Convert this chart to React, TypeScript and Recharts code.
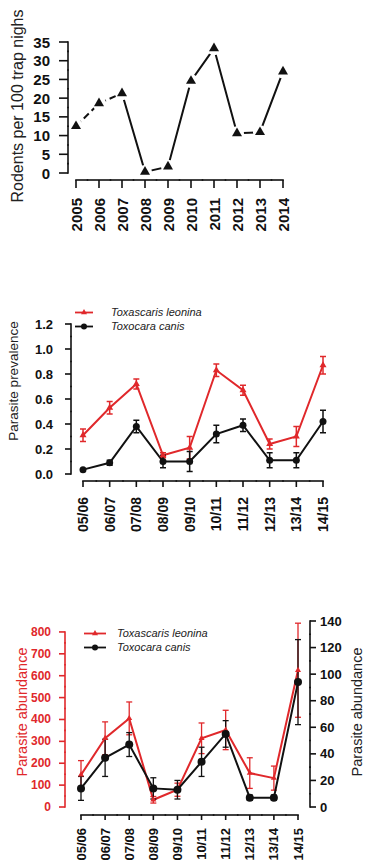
import React from 'react';
import { LineChart, Line, XAxis, YAxis, ErrorBar, Legend } from 'recharts';

const years = ['2005', '2006', '2007', '2008', '2009', '2010', '2011', '2012', '2013', '2014'];
const rodents = [12.5, 18.6, 21.3, 0.3, 1.7, 24.6, 33.3, 10.6, 10.9, 27.1];
const rodentTicks = [0, 5, 10, 15, 20, 25, 30, 35];

const seasons = ['05/06', '06/07', '07/08', '08/09', '09/10', '10/11', '11/12', '12/13', '13/14', '14/15'];
const leoninaPrev = [0.31, 0.53, 0.72, 0.15, 0.21, 0.83, 0.67, 0.24, 0.3, 0.87];
const leoninaPrevErr = [0.05, 0.05, 0.04, 0.02, 0.09, 0.05, 0.04, 0.04, 0.08, 0.07];
const canisPrev = [0.035, 0.09, 0.38, 0.1, 0.1, 0.32, 0.39, 0.11, 0.11, 0.42];
const canisPrevErr = [0, 0.02, 0.05, 0.05, 0.08, 0.07, 0.05, 0.06, 0.06, 0.09];
const prevTicks = [0, 0.2, 0.4, 0.6, 0.8, 1.0, 1.2];

const leoninaAbund = [147, 314, 405, 33, 79, 314, 352, 155, 132, 625];
const leoninaAbundErr = [65, 75, 75, 15, 30, 70, 90, 70, 55, 215];
const canisAbund = [14, 37, 47, 14, 13, 34, 55, 7, 7, 94];
const canisAbundErr = [9, 14, 9, 8, 7, 11, 10, 2, 2, 32];
const abundTicksLeft = [0, 100, 200, 300, 400, 500, 600, 700, 800];
const abundTicksRight = [0, 20, 40, 60, 80, 100, 120, 140];

const seriesNames = ['Toxascaris leonina', 'Toxocara canis'];

const FONT = '"Liberation Sans", Arial, Helvetica, sans-serif';
const INK = '#111';
const RED = '#e0282b';
const W = 366;

const rodentData = years.map((year, i) => ({
  year,
  rodents: rodents[i],
  early: i <= 2 ? rodents[i] : null,
  late: i >= 2 ? rodents[i] : null,
}));

const prevData = seasons.map((season, i) => ({
  season,
  leonina: leoninaPrev[i],
  leoninaErr: leoninaPrevErr[i],
  canis: canisPrev[i],
  canisErr: canisPrevErr[i],
}));

const abundData = seasons.map((season, i) => ({
  season,
  leonina: leoninaAbund[i],
  leoninaErr: leoninaAbundErr[i],
  canis: canisAbund[i],
  canisErr: canisAbundErr[i],
}));

// R style axes: the axis line only runs between the first and last tick
type TickStyle = { step: number; count: number; len: number; gap: number; size: number; color?: string; fmt?: (v: number) => string };

const bottomTick = (s: TickStyle) => (props: any) => {
  const { x, y, payload, index } = props;
  const c = s.color ?? INK;
  const ly = y + s.len + s.gap;
  return (
    <g>
      <line x1={index === 0 ? x : x - s.step / 2} x2={index === s.count - 1 ? x : x + s.step / 2} y1={y} y2={y} stroke={c} strokeWidth={1.6} strokeLinecap="square" />
      <line x1={x} x2={x} y1={y} y2={y + s.len} stroke={c} strokeWidth={1.6} />
      <text x={x} y={ly} transform={`rotate(-90 ${x} ${ly})`} textAnchor="end" dominantBaseline="central" fill={c} fontSize={s.size} fontWeight="bold" fontFamily={FONT}>
        {payload.value}
      </text>
    </g>
  );
};

const sideTick = (s: TickStyle, side: 'left' | 'right') => (props: any) => {
  const { x, y, payload, index } = props;
  const c = s.color ?? INK;
  const dir = side === 'left' ? -1 : 1;
  const top = index === s.count - 1 ? y : y - s.step / 2;
  const bottom = index === 0 ? y : y + s.step / 2;
  return (
    <g>
      <line x1={x} x2={x} y1={top} y2={bottom} stroke={c} strokeWidth={1.6} strokeLinecap="square" />
      <line x1={x} x2={x + dir * s.len} y1={y} y2={y} stroke={c} strokeWidth={1.6} />
      <text x={x + dir * (s.len + s.gap)} y={y} textAnchor={side === 'left' ? 'end' : 'start'} dominantBaseline="central" fill={c} fontSize={s.size} fontWeight="bold" fontFamily={FONT}>
        {s.fmt ? s.fmt(payload.value) : payload.value}
      </text>
    </g>
  );
};

const AxisTitle = (p: { tx: number; ty: number; text: string; size: number; color?: string }) => (
  <text x={p.tx} y={p.ty} transform={`rotate(-90 ${p.tx} ${p.ty})`} textAnchor="middle" dominantBaseline="central" fill={p.color ?? '#222'} fontSize={p.size} fontFamily={FONT}>
    {p.text}
  </text>
);

const triPoints = (cx: number, cy: number, size: number) => {
  const h = size * 0.866;
  return `${cx},${cy - (h * 2) / 3} ${cx - size / 2},${cy + h / 3} ${cx + size / 2},${cy + h / 3}`;
};

const triangleDot = (size: number, fill: string, halo = 0) => (props: any) => {
  const { cx, cy, index } = props;
  if (cx == null || cy == null) return <g key={`t${index}`} />;
  return (
    <g key={`t${index}`}>
      {halo > 0 && <circle cx={cx} cy={cy} r={halo} fill="#fff" />}
      <polygon points={triPoints(cx, cy, size)} fill={fill} />
    </g>
  );
};

const circleDot = (r: number, fill: string) => (props: any) => {
  const { cx, cy, index } = props;
  if (cx == null || cy == null) return <g key={`c${index}`} />;
  return <circle key={`c${index}`} cx={cx} cy={cy} r={r} fill={fill} />;
};

const SeriesKey = ({ swatch, gap }: { swatch: number; gap: number }) => (
  <div style={{ fontFamily: FONT, fontStyle: 'italic', fontSize: 11, lineHeight: '13.5px', color: '#222' }}>
    {seriesNames.map((name, i) => (
      <div key={name} style={{ display: 'flex', alignItems: 'center', whiteSpace: 'nowrap' }}>
        <svg width={swatch} height={13} style={{ marginRight: gap }}>
          <line x1={0} x2={swatch} y1={6.5} y2={6.5} stroke={i === 0 ? RED : INK} strokeWidth={1.8} />
          {i === 0 ? <polygon points={triPoints(swatch / 2, 6.5, 6)} fill={RED} /> : <circle cx={swatch / 2} cy={6.5} r={3} fill={INK} />}
        </svg>
        <span>{name}</span>
      </div>
    ))}
  </div>
);

// panel geometry
const g1 = { top: 42, bottom: 180, left: 68, right: 291, padX: 8, padY: 7, h: 240 };
const g2 = { top: 44, bottom: 201, left: 71, right: 335, padX: 12, padY: 7, h: 290 };
const g3 = { top: 51, bottom: 245, left: 65, right: 310, padL: 16, padR: 12, padY: 8, h: 294 };

const step1x = (g1.right - g1.left - 2 * g1.padX) / (years.length - 1);
const step1y = (g1.bottom - g1.top - g1.padY) / (rodentTicks.length - 1);
const step2x = (g2.right - g2.left - 2 * g2.padX) / (seasons.length - 1);
const step2y = (g2.bottom - g2.top - g2.padY) / (prevTicks.length - 1);
const step3x = (g3.right - g3.left - g3.padL - g3.padR) / (seasons.length - 1);
const range3 = g3.bottom - g3.top - g3.padY;
const leftMax3 = 850;
const step3l = (range3 * 100) / leftMax3;
const step3r = (range3 * 20) / 140;

const RodentPanel = () => (
  <LineChart width={W} height={g1.h} data={rodentData} margin={{ top: g1.top, right: W - g1.right, bottom: 0, left: 0 }}>
    <XAxis dataKey="year" interval={0} height={g1.h - g1.bottom} padding={{ left: g1.padX, right: g1.padX }} axisLine={false} tickLine={false} tickSize={0} tickMargin={0}
      tick={bottomTick({ step: step1x, count: years.length, len: 8, gap: 10, size: 15 })} />
    <YAxis domain={[0, 35]} ticks={rodentTicks} interval={0} width={g1.left} padding={{ top: 0, bottom: g1.padY }} axisLine={false} tickLine={false} tickSize={0} tickMargin={0}
      tick={sideTick({ step: step1y, count: rodentTicks.length, len: 9, gap: 9, size: 15 }, 'left')}
      label={<AxisTitle tx={17} ty={106} text="Rodents per 100 trap nighs" size={16} />} />
    <Line dataKey="early" stroke={INK} strokeWidth={2} strokeDasharray="7 4" dot={false} activeDot={false} isAnimationActive={false} />
    <Line dataKey="late" stroke={INK} strokeWidth={2} dot={false} activeDot={false} isAnimationActive={false} />
    <Line dataKey="rodents" stroke="none" dot={triangleDot(10, INK, 7)} activeDot={false} isAnimationActive={false} />
  </LineChart>
);

const PrevalencePanel = () => (
  <LineChart width={W} height={g2.h} data={prevData} margin={{ top: g2.top, right: W - g2.right, bottom: 0, left: 0 }}>
    <XAxis dataKey="season" interval={0} height={g2.h - g2.bottom} padding={{ left: g2.padX, right: g2.padX }} axisLine={false} tickLine={false} tickSize={0} tickMargin={0}
      tick={bottomTick({ step: step2x, count: seasons.length, len: 6, gap: 10, size: 14 })} />
    <YAxis domain={[0, 1.2]} ticks={prevTicks} interval={0} width={g2.left} padding={{ top: 0, bottom: g2.padY }} axisLine={false} tickLine={false} tickSize={0} tickMargin={0}
      tick={sideTick({ step: step2y, count: prevTicks.length, len: 6, gap: 12, size: 13, fmt: (v) => v.toFixed(1) }, 'left')}
      label={<AxisTitle tx={13} ty={101} text="Parasite prevalence" size={13.5} />} />
    <Legend layout="vertical" align="center" verticalAlign="middle" content={<SeriesKey swatch={18} gap={18} />} wrapperStyle={{ left: 75, top: 26, width: 'auto' }} />
    <Line dataKey="leonina" stroke={RED} strokeWidth={2} dot={triangleDot(7, RED)} activeDot={false} isAnimationActive={false}>
      <ErrorBar dataKey="leoninaErr" width={3} stroke={RED} strokeWidth={1.5} direction="y" isAnimationActive={false} />
    </Line>
    <Line dataKey="canis" stroke={INK} strokeWidth={2} dot={circleDot(3.5, INK)} activeDot={false} isAnimationActive={false}>
      <ErrorBar dataKey="canisErr" width={3} stroke={INK} strokeWidth={1.5} direction="y" isAnimationActive={false} />
    </Line>
  </LineChart>
);

const AbundancePanel = () => (
  <LineChart width={W} height={g3.h} data={abundData} margin={{ top: g3.top, right: 0, bottom: 0, left: 0 }}>
    <XAxis dataKey="season" interval={0} height={g3.h - g3.bottom} padding={{ left: g3.padL, right: g3.padR }} axisLine={false} tickLine={false} tickSize={0} tickMargin={0}
      tick={bottomTick({ step: step3x, count: seasons.length, len: 5, gap: 8, size: 13 })} />
    <YAxis yAxisId="left" orientation="left" domain={[0, leftMax3]} ticks={abundTicksLeft} interval={0} width={g3.left} padding={{ top: 0, bottom: g3.padY }} axisLine={false} tickLine={false} tickSize={0} tickMargin={0}
      tick={sideTick({ step: step3l, count: abundTicksLeft.length, len: 6, gap: 8, size: 12, color: RED }, 'left')}
      label={<AxisTitle tx={22} ty={142} text="Parasite abundance" size={14.5} color={RED} />} />
    <YAxis yAxisId="right" orientation="right" domain={[0, 140]} ticks={abundTicksRight} interval={0} width={W - g3.right} padding={{ top: 0, bottom: g3.padY }} axisLine={false} tickLine={false} tickSize={0} tickMargin={0}
      tick={sideTick({ step: step3r, count: abundTicksRight.length, len: 6, gap: 4, size: 13 }, 'right')}
      label={<AxisTitle tx={357} ty={142} text="Parasite abundance" size={14.5} />} />
    <Legend layout="vertical" align="center" verticalAlign="middle" content={<SeriesKey swatch={22} gap={11} />} wrapperStyle={{ left: 84, top: 57, width: 'auto' }} />
    <Line yAxisId="left" dataKey="leonina" stroke={RED} strokeWidth={2} dot={triangleDot(6, RED)} activeDot={false} isAnimationActive={false}>
      <ErrorBar dataKey="leoninaErr" width={3} stroke={RED} strokeWidth={1.3} direction="y" isAnimationActive={false} />
    </Line>
    <Line yAxisId="right" dataKey="canis" stroke={INK} strokeWidth={2} dot={circleDot(4, INK)} activeDot={false} isAnimationActive={false}>
      <ErrorBar dataKey="canisErr" width={3} stroke={INK} strokeWidth={1.3} direction="y" isAnimationActive={false} />
    </Line>
  </LineChart>
);

const App: React.FC = () => {
  return (
    <div style={{ position: 'absolute', left: 0, top: 0, width: W, height: 864, background: '#fff', overflow: 'hidden' }}>
      <div style={{ position: 'absolute', left: 0, top: 0 }}>
        <RodentPanel />
      </div>
      <div style={{ position: 'absolute', left: 0, top: 280 }}>
        <PrevalencePanel />
      </div>
      <div style={{ position: 'absolute', left: 0, top: 570 }}>
        <AbundancePanel />
      </div>
    </div>
  );
};

export default App;
